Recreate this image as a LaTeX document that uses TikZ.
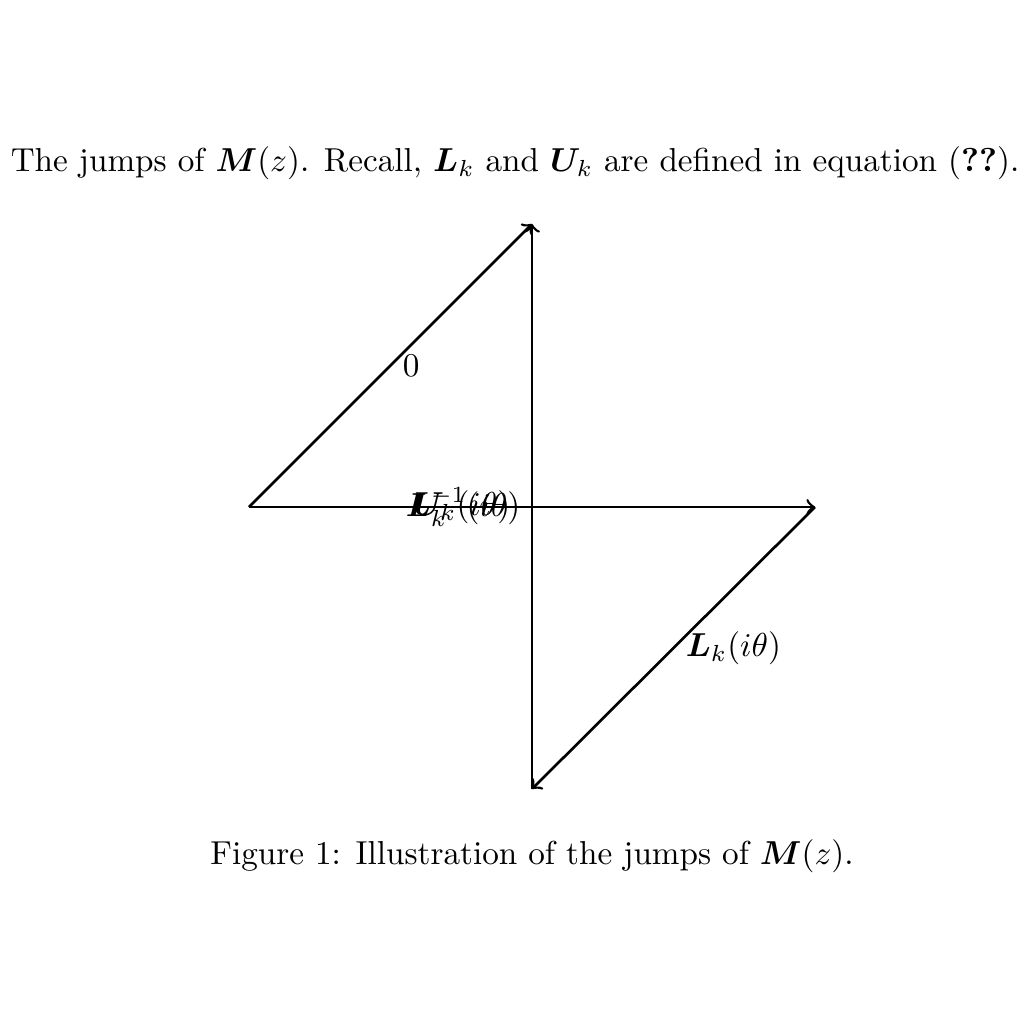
\documentclass[tikz,border=0pt]{standalone}
\usepackage{bm}
\begin{document}
\begin{tikzpicture}[x=0.01059cm,y=-0.01059cm,
  jump/.style={thick,->},
  lbl/.style={inner sep=0.3333em}]
\useasboundingbox (0,0) rectangle (1024,1024);
\coordinate (A) at (249,507);
\coordinate (T) at (532,224);
\coordinate (R) at (815,507);
\coordinate (B) at (532,789);
\coordinate (O) at (532,507);
\node[lbl] (title) at (515,163) {The jumps of $\bm{M}(z)$. Recall, $\bm{L}_k$ and $\bm{U}_k$ are defined in equation (\textbf{??}).};
\node[lbl] (cap) at (532,856) {Figure 1: Illustration of the jumps of $\bm{M}(z)$.};
\draw[jump] (A) -- (R);
\draw[jump] (B) -- (T);
\draw[jump] (A) -- node[right,lbl] (l0) {$0$} (T);
\draw[jump] (R) -- node[right,lbl] (lL) {$\bm{L}_k(i\theta)$} (B);
\node[left,lbl,xshift=-3pt] (lU) at (O) {$\bm{U}_k(i\theta)$};
\node[left,lbl] (lLi) at (O) {$\bm{L}_k^{-1}(i\theta)$};
\end{tikzpicture}
\end{document}
